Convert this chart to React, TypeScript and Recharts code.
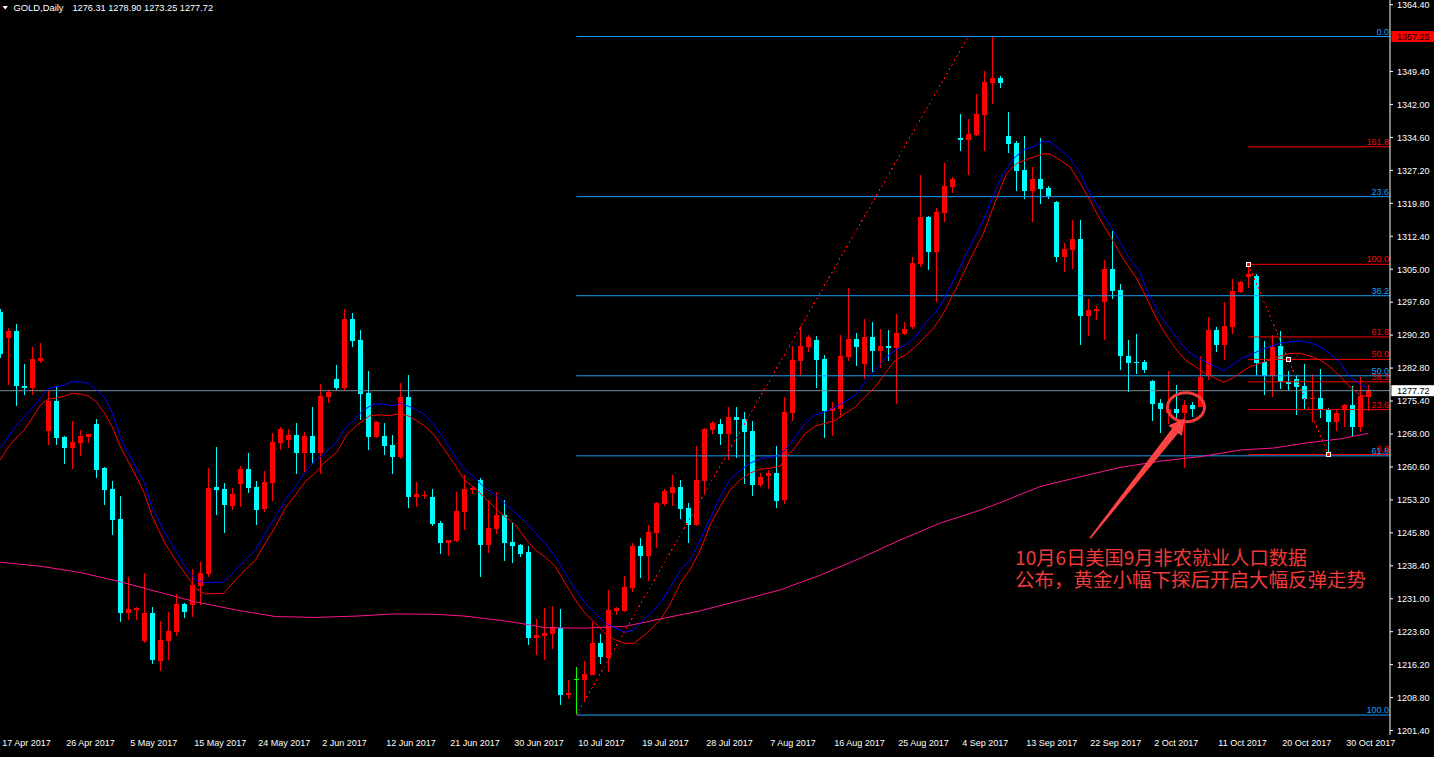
import React from 'react';
import { ComposedChart, Bar, Line, XAxis, YAxis, ReferenceLine, ReferenceDot } from 'recharts';

// ---------- data ----------
const symbolName = 'GOLD,Daily';

const opens = [
  1295.4, 1289.6, 1291.1, 1278.8, 1278.4, 1284.4, 1268.7, 1275.4, 1267.3, 1264.9,
  1266.0, 1267.3, 1270.2, 1260.3, 1255.6, 1248.9, 1227.8, 1228.5, 1221.5, 1227.8,
  1217.0, 1221.5, 1223.6, 1229.8, 1229.6, 1233.9, 1236.6, 1256.1, 1255.6, 1251.9,
  1256.8, 1260.1, 1256.1, 1251.1, 1257.1, 1266.0, 1266.7, 1267.8, 1263.8, 1267.5,
  1263.8, 1276.4, 1280.3, 1278.4, 1293.8, 1289.1, 1277.2, 1267.4, 1267.5, 1265.5,
  1262.8, 1276.3, 1253.9, 1254.2, 1253.9, 1248.1, 1243.6, 1244.0, 1250.5, 1255.5,
  1257.7, 1243.1, 1246.7, 1249.8, 1243.7, 1243.1, 1241.5, 1222.2, 1222.6, 1223.1,
  1224.4, 1209.4, 1212.9, 1212.7, 1213.9, 1221.1, 1217.8, 1228.2, 1228.2, 1233.4,
  1242.8, 1240.6, 1245.8, 1252.3, 1254.7, 1256.1, 1251.4, 1247.6, 1257.4, 1268.9,
  1270.2, 1268.0, 1271.8, 1271.4, 1268.7, 1256.5, 1258.6, 1259.2, 1253.2, 1272.7,
  1284.4, 1287.5, 1289.1, 1284.8, 1273.2, 1273.6, 1285.3, 1289.3, 1283.7, 1289.8,
  1286.6, 1287.8, 1287.3, 1290.4, 1292.0, 1306.2, 1316.7, 1308.9, 1317.6, 1323.5,
  1334.5, 1334.0, 1335.1, 1339.6, 1346.8, 1347.9, 1334.9, 1333.3, 1327.3, 1322.6,
  1325.3, 1323.2, 1320.1, 1307.7, 1309.3, 1311.8, 1294.5, 1295.7, 1297.7, 1305.0,
  1300.3, 1285.5, 1284.2, 1284.2, 1279.9, 1275.0, 1272.6, 1273.6, 1272.8, 1274.6,
  1274.1, 1281.1, 1291.3, 1288.0, 1292.0, 1299.9, 1303.3, 1303.5, 1284.2, 1281.0,
  1287.8, 1279.7, 1280.3, 1278.8, 1275.9, 1276.1, 1273.4, 1270.8, 1273.4, 1274.6,
  1269.6, 1276.31,
];
const highs = [
  1296.1, 1291.9, 1292.7, 1283.7, 1287.5, 1288.4, 1277.6, 1278.5, 1267.6, 1270.9,
  1268.9, 1268.0, 1271.4, 1260.5, 1257.4, 1254.1, 1235.9, 1229.1, 1236.8, 1229.1,
  1226.0, 1228.0, 1232.0, 1230.0, 1237.6, 1239.2, 1260.4, 1265.1, 1257.0, 1255.9,
  1260.8, 1263.7, 1257.4, 1259.7, 1268.2, 1269.6, 1269.1, 1270.5, 1268.4, 1274.1,
  1279.2, 1277.9, 1283.5, 1296.1, 1295.2, 1291.3, 1282.1, 1270.9, 1270.5, 1267.8,
  1279.4, 1281.2, 1257.2, 1255.2, 1255.7, 1248.5, 1244.3, 1255.0, 1258.8, 1256.2,
  1258.1, 1253.2, 1255.0, 1253.2, 1248.2, 1243.3, 1242.8, 1226.4, 1228.9, 1229.4,
  1228.7, 1212.7, 1215.7, 1217.0, 1225.8, 1223.1, 1233.0, 1229.1, 1236.1, 1243.5,
  1244.6, 1247.6, 1252.7, 1255.6, 1258.8, 1257.7, 1252.5, 1265.3, 1269.3, 1270.9,
  1271.4, 1274.1, 1274.1, 1272.9, 1270.9, 1259.2, 1259.9, 1265.3, 1276.3, 1287.8,
  1292.2, 1290.2, 1290.0, 1285.7, 1275.2, 1290.2, 1300.8, 1290.7, 1293.8, 1293.1,
  1291.6, 1291.3, 1294.9, 1293.1, 1307.7, 1326.2, 1316.9, 1318.7, 1328.9, 1325.7,
  1339.9, 1338.7, 1344.3, 1349.5, 1357.25, 1348.4, 1340.3, 1333.8, 1334.9, 1328.0,
  1334.5, 1323.7, 1320.3, 1310.9, 1316.0, 1316.0, 1298.3, 1296.7, 1307.1, 1313.6,
  1301.7, 1289.1, 1290.4, 1284.6, 1280.1, 1275.9, 1282.1, 1279.0, 1275.7, 1275.2,
  1285.5, 1294.3, 1292.0, 1297.6, 1302.8, 1302.4, 1306.1, 1303.9, 1288.9, 1290.2,
  1291.1, 1282.1, 1281.2, 1283.7, 1281.5, 1282.7, 1273.9, 1273.4, 1274.7, 1278.8,
  1280.9, 1278.90,
];
const lows = [
  1285.1, 1279.0, 1274.3, 1276.7, 1276.7, 1283.9, 1265.5, 1265.5, 1261.3, 1260.1,
  1263.1, 1266.0, 1258.2, 1252.0, 1245.3, 1225.8, 1226.3, 1226.3, 1221.1, 1216.4,
  1214.8, 1217.2, 1222.7, 1226.7, 1227.0, 1229.6, 1235.9, 1249.9, 1245.8, 1251.0,
  1251.7, 1254.8, 1247.6, 1250.5, 1253.0, 1264.5, 1264.9, 1259.1, 1259.5, 1261.5,
  1258.9, 1275.0, 1277.9, 1277.7, 1287.6, 1271.2, 1264.5, 1267.2, 1263.3, 1259.1,
  1262.4, 1251.3, 1251.7, 1253.5, 1247.4, 1241.1, 1240.7, 1243.8, 1246.5, 1254.6,
  1235.9, 1241.3, 1245.5, 1239.5, 1239.0, 1240.4, 1220.6, 1218.4, 1217.2, 1219.7,
  1207.1, 1208.5, 1204.9, 1208.0, 1213.8, 1216.3, 1214.5, 1227.3, 1228.0, 1232.5,
  1235.7, 1235.0, 1242.4, 1251.8, 1251.8, 1248.9, 1243.5, 1247.4, 1254.3, 1268.0,
  1265.5, 1262.2, 1262.6, 1256.8, 1254.1, 1256.1, 1255.6, 1251.4, 1252.3, 1270.9,
  1281.0, 1286.4, 1278.3, 1267.1, 1267.5, 1271.6, 1284.4, 1283.3, 1280.3, 1281.9,
  1282.8, 1284.4, 1274.7, 1290.3, 1291.6, 1305.5, 1304.8, 1297.7, 1315.6, 1322.1,
  1331.5, 1326.2, 1334.9, 1331.5, 1342.1, 1345.7, 1331.1, 1322.6, 1320.8, 1315.6,
  1319.6, 1320.8, 1306.6, 1304.4, 1305.0, 1288.0, 1290.0, 1293.7, 1289.2, 1298.4,
  1282.4, 1277.5, 1281.5, 1281.8, 1270.9, 1268.3, 1270.3, 1271.1, 1260.3, 1271.9,
  1274.0, 1280.2, 1286.5, 1284.5, 1290.5, 1299.7, 1300.8, 1281.2, 1276.7, 1276.4,
  1278.2, 1277.7, 1272.3, 1273.7, 1270.8, 1271.6, 1263.4, 1268.7, 1269.6, 1267.6,
  1268.5, 1273.25,
];
const closes = [
  1286.0, 1291.1, 1278.8, 1278.4, 1284.8, 1285.1, 1275.4, 1267.2, 1264.9, 1266.2,
  1267.5, 1267.9, 1260.0, 1255.5, 1248.7, 1227.8, 1228.7, 1229.0, 1227.8, 1217.3,
  1221.7, 1223.8, 1229.8, 1228.0, 1234.1, 1236.8, 1255.9, 1255.5, 1252.1, 1254.5,
  1260.1, 1255.9, 1251.0, 1257.2, 1266.2, 1269.1, 1267.8, 1263.8, 1267.5, 1263.8,
  1276.5, 1277.4, 1278.4, 1293.8, 1288.9, 1277.0, 1267.4, 1270.7, 1265.4, 1262.9,
  1276.3, 1253.9, 1254.5, 1254.4, 1247.8, 1243.6, 1244.2, 1250.7, 1255.6, 1255.9,
  1243.1, 1246.9, 1249.8, 1243.5, 1242.8, 1241.0, 1222.2, 1222.9, 1223.3, 1224.6,
  1209.4, 1209.8, 1212.9, 1214.1, 1221.1, 1218.0, 1228.5, 1228.9, 1233.6, 1242.8,
  1240.6, 1246.0, 1252.5, 1255.2, 1256.1, 1251.1, 1247.6, 1257.7, 1269.1, 1270.5,
  1268.0, 1271.8, 1271.1, 1268.4, 1256.5, 1258.3, 1259.2, 1252.9, 1272.9, 1284.6,
  1287.8, 1289.8, 1284.6, 1273.2, 1273.8, 1285.5, 1289.3, 1287.5, 1289.8, 1286.6,
  1287.8, 1287.3, 1290.7, 1291.6, 1306.4, 1316.7, 1308.9, 1317.8, 1323.7, 1325.3,
  1334.0, 1335.4, 1339.9, 1347.0, 1347.9, 1346.8, 1333.1, 1327.1, 1322.6, 1325.3,
  1323.0, 1321.4, 1307.7, 1309.5, 1311.8, 1294.5, 1295.8, 1296.1, 1305.0, 1300.2,
  1285.4, 1284.0, 1283.9, 1282.4, 1274.8, 1273.7, 1273.7, 1272.8, 1274.6, 1273.7,
  1280.8, 1291.3, 1288.0, 1292.2, 1300.1, 1302.1, 1303.9, 1284.0, 1281.0, 1287.6,
  1279.7, 1279.3, 1278.6, 1275.9, 1276.1, 1273.7, 1270.8, 1272.8, 1274.6, 1269.6,
  1276.6, 1277.72,
];

// one label every 8 bars, starting at bar 0
const dateTickLabels = [
  '17 Apr 2017', '26 Apr 2017', '5 May 2017', '15 May 2017', '24 May 2017', '2 Jun 2017',
  '12 Jun 2017', '21 Jun 2017', '30 Jun 2017', '10 Jul 2017', '19 Jul 2017', '28 Jul 2017',
  '7 Aug 2017', '16 Aug 2017', '25 Aug 2017', '4 Sep 2017', '13 Sep 2017', '22 Sep 2017',
  '2 Oct 2017', '11 Oct 2017', '20 Oct 2017', '30 Oct 2017',
];
const barsPerDateLabel = 8;

const priceTicks = [
  1201.4, 1208.8, 1216.2, 1223.6, 1231.0, 1238.4, 1245.8, 1253.2, 1260.6, 1268.0, 1275.4,
  1282.8, 1290.2, 1297.6, 1305.0, 1312.4, 1319.8, 1327.2, 1334.6, 1342.0, 1349.4, 1364.4,
];

// moving averages: [bar position, price]
const maBlue: [number, number][] = [
  [0,1264.8],[2,1270.0],[4,1273.8],[6,1278.2],[8,1279.0],[9,1279.8],[10,1279.7],[11,1279.4],[12,1277.9],[13,1276.3],
  [14,1272.7],[15,1267.4],[16,1263.7],[17,1260.4],[18,1257.0],[19,1251.4],[20.6,1245.7],[21.9,1241.9],[23.1,1238.2],[24.4,1235.2],
  [25.6,1234.6],[27.9,1234.75],[29.4,1237.45],[30.6,1239.7],[31.9,1241.9],[33.1,1245.7],[34.4,1249.4],[35.6,1253.2],[36.9,1256.2],[38.1,1259.5],
  [39.4,1262.15],[40.4,1263.4],[42.1,1266.3],[42.9,1268.9],[44.2,1271.1],[45.4,1273.4],[46.7,1274.7],[47.9,1274.7],[49.2,1274.35],[50,1274.9],
  [51.2,1274.1],[52.9,1272.6],[54.2,1270.0],[55.4,1267.0],[56.7,1263.3],[58.1,1259.9],[59.4,1258.0],[60.6,1255.8],[61.9,1254.3],[63.1,1252.4],
  [64.4,1250.2],[65.6,1248.3],[66.9,1245.7],[68.1,1243.4],[69.4,1240.4],[70.6,1236.7],[71.9,1233.0],[73.1,1230.0],[74.4,1227.7],[75.6,1225.5],
  [76.9,1224.35],[78.1,1223.5],[79.2,1224.0],[80.8,1227.0],[82.5,1230.0],[83.8,1233.7],[85,1237.45],[86.2,1239.7],[87.5,1244.2],[88.8,1249.4],
  [90,1253.9],[91.2,1257.7],[92.5,1259.9],[93.7,1261.4],[95,1262.5],[96.9,1262.9],[98.1,1264.4],[99.4,1267.4],[100.6,1270.4],[101.9,1272.3],
  [103.1,1272.9],[104.4,1274.1],[105.6,1275.25],[106.9,1276.75],[108.1,1279.7],[109.4,1282.4],[110.6,1285.0],[111.9,1286.85],[113.1,1288.0],[114.4,1289.8],
  [115.6,1292.85],[116.8,1295.1],[117.9,1298.1],[119.6,1304.1],[121.2,1310.05],[122.9,1316.05],[124.2,1322.0],[125.4,1326.5],[126.7,1329.9],[127.9,1331.8],
  [129.2,1332.5],[130.4,1333.8],[131.2,1333.6],[132.5,1331.8],[133.7,1329.9],[135,1326.5],[136.2,1322.0],[138.3,1316.05],[139.8,1311.6],[141,1307.8],
  [142.3,1304.8],[143.5,1299.6],[144.8,1295.1],[146,1292.1],[147.3,1289.1],[148.5,1286.5],[149.8,1285.0],[151,1283.9],[152.3,1282.75],[152.9,1282.2],
  [154,1283.5],[155.2,1285.0],[156.2,1285.7],[157.5,1286.85],[158.7,1287.6],[160,1288.4],[161.2,1288.7],[162.5,1288.9],[163.7,1288.5],[165,1287.6],
  [166.2,1286.1],[167.5,1283.9],[168.7,1280.9],[170,1279.0],[171,1278.25],
];
const maRed: [number, number][] = [
  [0,1262.15],[1,1265.1],[2,1267.1],[3,1268.9],[4,1271.6],[5,1274.5],[6,1275.85],[7,1276.1],[8,1276.5],[9,1277.1],
  [10,1277.0],[11,1276.5],[12,1275.25],[13,1272.7],[14,1269.6],[15,1265.1],[16,1261.8],[17,1258.4],[18,1254.7],[19,1249.4],
  [20.6,1243.4],[21.9,1239.7],[23.1,1236.7],[24.4,1233.3],[25.6,1232.1],[27.9,1232.2],[29.4,1235.2],[30.6,1237.45],[31.9,1239.7],[33.1,1243.4],
  [34.4,1247.2],[35.6,1251.3],[36.9,1254.3],[38.1,1257.3],[39.4,1259.3],[40.4,1261.4],[42.1,1264.0],[43.3,1267.8],[44.6,1270.0],[46.2,1272.1],
  [47.5,1272.3],[48.7,1272.1],[50,1272.6],[51.2,1271.9],[52.9,1270.0],[54.2,1267.8],[55.4,1264.8],[56.7,1261.4],[58.1,1257.5],[59.4,1255.8],
  [60.6,1253.55],[61.9,1251.3],[63.1,1249.4],[64.4,1247.6],[65.6,1244.6],[66.9,1241.9],[68.1,1240.4],[69.4,1238.2],[70.6,1234.5],[71.9,1230.7],
  [73.1,1227.7],[74.4,1225.5],[75.6,1223.2],[76.9,1221.7],[78.1,1221.0],[79.2,1221.0],[80.8,1223.2],[82.5,1226.2],[83.8,1230.0],[85,1234.5],
  [86.2,1237.45],[87.5,1241.9],[88.8,1247.9],[90,1251.7],[91.2,1255.4],[92.5,1257.7],[93.7,1259.2],[95,1260.1],[96.2,1260.3],[97.5,1260.8],
  [98.1,1262.5],[99.4,1265.1],[100.6,1268.1],[101.9,1269.8],[103.1,1270.4],[104.4,1271.1],[105.6,1272.6],[106.9,1274.1],[108.1,1276.4],[109.4,1278.6],
  [110.6,1281.6],[111.9,1284.6],[113.1,1285.7],[114.4,1287.6],[115.6,1289.8],[116.8,1292.1],[117.9,1295.1],[119.6,1301.1],[121.2,1307.1],[122.9,1313.1],
  [124.6,1321.3],[125.8,1326.5],[127.1,1328.8],[128.7,1329.9],[130.4,1330.9],[131.2,1330.9],[132.5,1329.5],[133.7,1328.0],[135,1324.3],[136.2,1320.5],
  [137.5,1316.05],[139,1311.6],[140.2,1307.8],[141.9,1303.3],[143.1,1299.2],[144.4,1294.3],[145.6,1290.6],[146.9,1287.2],[148.1,1284.6],[149.4,1283.1],
  [150.6,1281.6],[151.9,1280.5],[152.9,1279.6],[154,1280.5],[155.2,1282.0],[156.2,1283.1],[157.5,1283.9],[158.7,1284.6],[160,1285.5],[161.2,1286.1],
  [162.5,1286.1],[163.7,1285.5],[165,1284.6],[166.2,1283.1],[167.5,1280.9],[168.7,1278.6],[170,1276.75],[171,1276.4],
];
const maLong: [number, number][] = [
  [0,1239.2],[5,1238.3],[10,1236.9],[15,1234.8],[20,1232.4],[24.4,1230.3],[29.4,1228.5],[34.4,1227.0],[39.4,1226.8],[44.4,1227.1],
  [49.4,1227.6],[54.4,1227.5],[58.1,1227.1],[63.1,1226.0],[65.6,1225.3],[68.1,1224.5],[73.1,1224.4],[78.1,1224.8],[82.5,1226.45],[87.5,1228.3],
  [92.5,1230.6],[97.5,1233.0],[102.5,1236.3],[107.5,1240.1],[112.5,1244.2],[117.5,1248.0],[122.5,1250.9],[125,1252.6],[130,1256.2],[135,1258.4],
  [140,1260.5],[145,1261.9],[150,1262.9],[155,1264.4],[159.2,1264.85],[163.3,1266.0],[167.5,1266.9],[171,1268.15],
];

// Fibonacci retracements
const fibMainLevels = [0, 23.6, 38.2, 50, 61.8, 100];
const fibMainHigh = 1357.25;
const fibMainLow = 1204.88;
const fibMainFromBar = 72;
const fibMainToBar = 121;
const fibSubLevels = [0, 23.6, 38.2, 50, 61.8, 100, 161.8];
const fibSubHigh = 1306.1;
const fibSubLow = 1263.4;
const fibSubFromBar = 156;
const fibSubToBar = 166;

const noteLines = ['10月6日美国9月非农就业人口数据', '公布，黄金小幅下探后开启大幅反弹走势'];
const noteBar = 148;
const notePrice = 1274.0;

// ---------- derived ----------
const rows = opens.map((o, i) => ({
  i, k: i, o, h: highs[i], l: lows[i], c: closes[i], range: [lows[i], highs[i]],
}));
const last = rows.length - 1;
const bidPrice = closes[last];
const toPts = (a: [number, number][]) => a.map(([k, v]) => ({ k, v }));
const dateTicks = dateTickLabels.map((_, j) => j * barsPerDateLabel);

const X_MIN = -0.5;
const X_MAX = 173.7125;
const Y_MIN = 1200.4;
const Y_MAX = 1365.455;
const X_RIGHT = 173.7;

const FIB_BLUE = '#1C9EF5';
const FIB_RED = '#FF0000';
const FONT = '"Liberation Sans", Arial, sans-serif';

const Candle = (p: any) => {
  const { x, y, width, height, payload } = p;
  if (!payload) return null;
  const top = Math.min(y, y + height);
  const hgt = Math.abs(height);
  const { o, h, l, c } = payload;
  const span = h - l || 1;
  const py = (v: number) => top + ((h - v) / span) * hgt;
  const cx = Math.floor(x + width / 2);
  const color = c > o ? '#FF0000' : c < o ? '#00FFFF' : '#00FF00';
  const yH = Math.round(py(h));
  const yL = Math.round(py(l));
  const bt = Math.round(py(Math.max(o, c)));
  const bb = Math.round(py(Math.min(o, c)));
  return (
    <g>
      <rect x={cx} y={yH} width={1} height={Math.max(1, yL - yH)} fill={color} />
      <rect x={cx - 2} y={bt} width={5} height={Math.max(1, bb - bt)} fill={color} />
    </g>
  );
};

const PriceTick = (p: any) => {
  const { x, y, payload } = p;
  return (
    <text x={x} y={y} dy={3.3} fill="#fff" fontSize={9} fontFamily={FONT} textAnchor="start">
      {Number(payload.value).toFixed(2)}
    </text>
  );
};

const DateTick = (p: any) => {
  const { x, payload } = p;
  const label = dateTickLabels[Math.round(payload.value / barsPerDateLabel)];
  return (
    <text x={x + 2} y={746} fill="#fff" fontSize={9} fontFamily={FONT} textAnchor="start">
      {label}
    </text>
  );
};

const fibText = (text: string, color: string) => (p: any) => {
  const { cx, cy } = p;
  if (cx == null) return <g />;
  return (
    <text x={cx} y={cy - 2} fill={color} fontSize={9} fontFamily={FONT} textAnchor="end">
      {text}
    </text>
  );
};

const priceBox = (text: string, bg: string) => (p: any) => {
  const { cx, cy } = p;
  if (cx == null) return <g />;
  return (
    <g>
      <rect x={cx + 1.5} y={cy - 5.5} width={44} height={11} fill={bg} />
      <text x={cx + 7} y={cy + 3.3} fill="#000" fontSize={9} fontFamily={FONT}>
        {text}
      </text>
    </g>
  );
};

const anchorMark = (p: any) => {
  const { cx, cy } = p;
  if (cx == null) return <g />;
  return (
    <g>
      <rect x={Math.round(cx) - 2} y={Math.round(cy) - 2} width={5} height={5} fill="#fff" />
      <rect x={Math.round(cx) - 1} y={Math.round(cy) - 1} width={3} height={3} fill="#FF0000" />
    </g>
  );
};

const Note = (p: any) => {
  const { cx, cy } = p;
  if (cx == null) return <g />;
  const ex = cx + 1.7;
  const tip = { x: cx + 0.7, y: cy + 11 };
  const tail = { x: cx - 94.3, y: cy + 131 };
  const dx = tip.x - tail.x;
  const dy = tip.y - tail.y;
  const len = Math.hypot(dx, dy);
  const u = { x: dx / len, y: dy / len };
  const n = { x: -u.y, y: u.x };
  const headLen = 16;
  const b = { x: tip.x - u.x * headLen, y: tip.y - u.y * headLen };
  const pt = (o: { x: number; y: number }, s: number) => `${o.x + n.x * s},${o.y + n.y * s}`;
  const poly = [
    pt(tail, 0.8), pt(b, 3.8), pt(b, 8.5), `${tip.x},${tip.y}`, pt(b, -8.5), pt(b, -3.8), pt(tail, -0.8),
  ].join(' ');
  return (
    <g>
      <ellipse cx={ex} cy={cy} rx={18.5} ry={14.5} fill="none" stroke="#EE3B3B" strokeWidth={3} />
      <polygon points={poly} fill="#FF4242" />
      <text x={cx - 169.3} y={cy + 158} fill="#F03A3A" fontSize={19.2} fontFamily='"Noto Sans CJK SC", sans-serif'>
        {noteLines[0]}
      </text>
      <text x={cx - 169.3} y={cy + 180} fill="#F03A3A" fontSize={19.5} fontFamily='"Noto Sans CJK SC", sans-serif'>
        {noteLines[1]}
      </text>
    </g>
  );
};

export default function App() {
  const mainFib = fibMainLevels.map((lv) => ({ lv, price: fibMainHigh - (lv / 100) * (fibMainHigh - fibMainLow) }));
  const subFib = fibSubLevels.map((lv) => ({ lv, price: fibSubLow + (lv / 100) * (fibSubHigh - fibSubLow) }));
  return (
    <div style={{ position: 'absolute', left: 0, top: 0, width: 1434, height: 757, background: '#000', overflow: 'hidden' }}>
      <ComposedChart width={1434} height={757} data={rows} margin={{ top: 0, right: 0, bottom: 0, left: -3.7 }}>
        <XAxis xAxisId="cat" dataKey="i" type="category" hide padding={{ left: 0, right: 17.7 }} />
        <XAxis
          xAxisId="num"
          dataKey="k"
          type="number"
          domain={[X_MIN, X_MAX]}
          allowDataOverflow
          ticks={dateTicks}
          interval={0}
          tick={<DateTick />}
          tickSize={3}
          tickMargin={0}
          tickLine={{ stroke: '#fff' }}
          axisLine={{ stroke: '#fff' }}
          height={22}
        />
        <YAxis
          yAxisId="p"
          orientation="right"
          type="number"
          width={44}
          domain={[Y_MIN, Y_MAX]}
          allowDataOverflow
          ticks={priceTicks}
          interval={0}
          tick={<PriceTick />}
          tickSize={3}
          tickMargin={4}
          tickLine={{ stroke: '#fff' }}
          axisLine={{ stroke: '#fff' }}
        />

        <ReferenceLine xAxisId="num" yAxisId="p" y={bidPrice} stroke="#7A8A9C" strokeWidth={1} />

        {mainFib.map((f) => (
          <ReferenceLine
            key={'mf' + f.lv}
            xAxisId="num"
            yAxisId="p"
            segment={[{ x: fibMainFromBar, y: f.price }, { x: X_RIGHT, y: f.price }]}
            stroke={FIB_BLUE}
            strokeWidth={1}
          />
        ))}
        {subFib.map((f) => (
          <ReferenceLine
            key={'sf' + f.lv}
            xAxisId="num"
            yAxisId="p"
            segment={[{ x: fibSubFromBar, y: f.price }, { x: X_RIGHT, y: f.price }]}
            stroke={FIB_RED}
            strokeWidth={1}
          />
        ))}
        <ReferenceLine
          xAxisId="num"
          yAxisId="p"
          segment={[{ x: fibMainFromBar, y: fibMainLow }, { x: fibMainToBar, y: fibMainHigh }]}
          stroke="#FF0000"
          strokeDasharray="2 3"
          shapeRendering="crispEdges"
        />
        <ReferenceLine
          xAxisId="num"
          yAxisId="p"
          segment={[{ x: fibSubFromBar, y: fibSubHigh }, { x: fibSubToBar, y: fibSubLow }]}
          stroke="#FF0000"
          strokeDasharray="2 3"
          shapeRendering="crispEdges"
        />

        <Line xAxisId="num" yAxisId="p" data={toPts(maLong)} dataKey="v" stroke="#FF1493" strokeWidth={1} dot={false} isAnimationActive={false} />
        <Line xAxisId="num" yAxisId="p" data={toPts(maRed)} dataKey="v" stroke="#FF0000" strokeWidth={1} dot={false} isAnimationActive={false} />
        <Line xAxisId="num" yAxisId="p" data={toPts(maBlue)} dataKey="v" stroke="#0000FF" strokeWidth={1} dot={false} isAnimationActive={false} />

        <Bar xAxisId="cat" yAxisId="p" dataKey="range" barSize={5} shape={Candle} isAnimationActive={false} />

        {mainFib.map((f) => (
          <ReferenceDot key={'ml' + f.lv} xAxisId="num" yAxisId="p" x={173.58} y={f.price} r={1} ifOverflow="visible" shape={fibText(f.lv.toFixed(1), FIB_BLUE)} />
        ))}
        {subFib.map((f) => (
          <ReferenceDot key={'sl' + f.lv} xAxisId="num" yAxisId="p" x={173.58} y={f.price} r={1} ifOverflow="visible" shape={fibText(f.lv.toFixed(1), FIB_RED)} />
        ))}
        <ReferenceDot xAxisId="num" yAxisId="p" x={fibSubFromBar} y={fibSubHigh} r={1} ifOverflow="visible" shape={anchorMark} />
        <ReferenceDot xAxisId="num" yAxisId="p" x={(fibSubFromBar + fibSubToBar) / 2} y={(fibSubHigh + fibSubLow) / 2} r={1} ifOverflow="visible" shape={anchorMark} />
        <ReferenceDot xAxisId="num" yAxisId="p" x={fibSubToBar} y={fibSubLow} r={1} ifOverflow="visible" shape={anchorMark} />

        <ReferenceDot xAxisId="num" yAxisId="p" x={X_RIGHT} y={fibMainHigh} r={1} ifOverflow="visible" shape={priceBox(fibMainHigh.toFixed(2), '#FF0000')} />
        <ReferenceDot xAxisId="num" yAxisId="p" x={X_RIGHT} y={bidPrice} r={1} ifOverflow="visible" shape={priceBox(bidPrice.toFixed(2), '#FFFFFF')} />

        <ReferenceDot xAxisId="num" yAxisId="p" x={noteBar} y={notePrice} r={1} ifOverflow="visible" shape={Note} />
      </ComposedChart>
      <svg style={{ position: 'absolute', left: 0, top: 0 }} width={320} height={16}>
        <polygon points="2.5,6 8,6 5.25,9.5" fill="#fff" />
        <text x={13.5} y={11} fill="#fff" fontSize={9.4} fontFamily={FONT}>{symbolName}</text>
        <text x={72.5} y={11} fill="#fff" fontSize={9.2} fontFamily={FONT}>
          {[opens[last], highs[last], lows[last], closes[last]].map((v) => v.toFixed(2)).join(' ')}
        </text>
      </svg>
    </div>
  );
}
